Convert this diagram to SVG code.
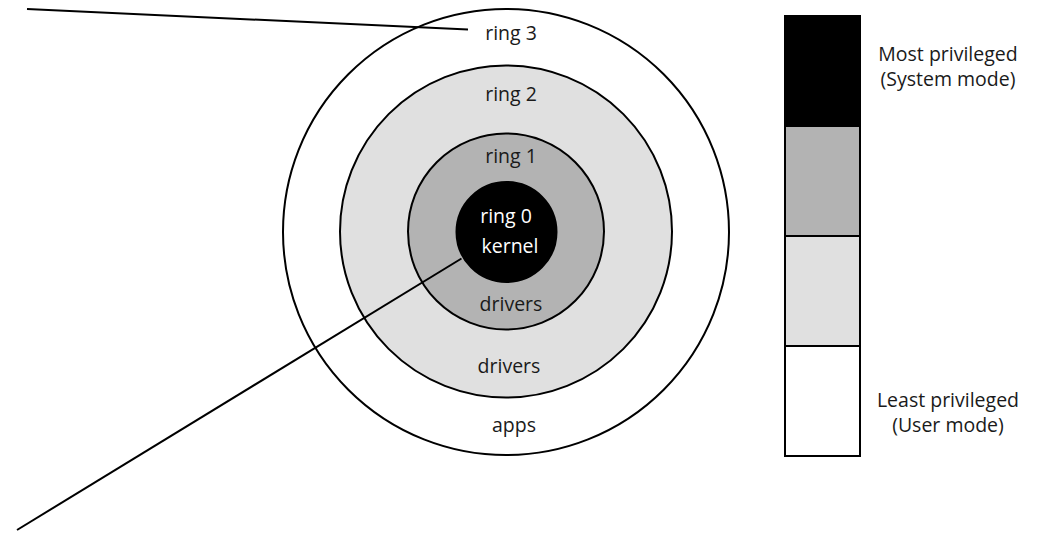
<svg xmlns="http://www.w3.org/2000/svg" width="1037" height="533" viewBox="0 0 1037 533">
  <style>
    .ring { stroke: #000; stroke-width: 2; }
    .lbl { font-family: "Open Sans", "Noto Sans", "Liberation Sans", sans-serif; font-size: 19.5px; fill: #1a1a1a; text-anchor: middle; }
    .inv { fill: #fff; }
    .lead { stroke: #000; stroke-width: 2; fill: none; }
    .seg { stroke: #000; stroke-width: 2; }
  </style>

  <!-- concentric protection rings -->
  <g id="ring3">
    <circle class="ring" cx="506" cy="232" r="223" fill="#fff"/>
    <text class="lbl" x="511" y="40">ring 3</text>
    <text class="lbl" x="514" y="432">apps</text>
  </g>
  <g id="ring2">
    <circle class="ring" cx="506" cy="231.5" r="166" fill="#e0e0e0"/>
    <text class="lbl" x="511" y="101">ring 2</text>
    <text class="lbl" x="509" y="373">drivers</text>
  </g>
  <g id="ring1">
    <circle class="ring" cx="506" cy="231.5" r="98" fill="#b3b3b3"/>
    <text class="lbl" x="511" y="163">ring 1</text>
    <text class="lbl" x="511" y="311">drivers</text>
  </g>
  <g id="ring0">
    <circle class="ring" cx="506.5" cy="232" r="50" fill="#000"/>
    <text class="lbl inv" x="506" y="223">ring 0</text>
    <text class="lbl inv" x="510" y="253">kernel</text>
  </g>

  <!-- privilege scale -->
  <g id="scale">
    <rect class="seg" x="785" y="16" width="75" height="110" fill="#000"/>
    <rect class="seg" x="785" y="126" width="75" height="110" fill="#b3b3b3"/>
    <rect class="seg" x="785" y="236" width="75" height="110" fill="#e0e0e0"/>
    <rect class="seg" x="785" y="346" width="75" height="110" fill="#fff"/>
  </g>
  <g id="most">
    <text class="lbl" x="948" y="61">Most privileged</text>
    <text class="lbl" x="948" y="86">(System mode)</text>
  </g>
  <g id="least">
    <text class="lbl" x="948" y="407">Least privileged</text>
    <text class="lbl" x="948" y="432">(User mode)</text>
  </g>

  <!-- leader lines -->
  <g id="connectors">
    <line class="lead" x1="27" y1="9" x2="468" y2="29.5"/>
    <line class="lead" x1="461.5" y1="258.5" x2="17" y2="530"/>
  </g>
</svg>
